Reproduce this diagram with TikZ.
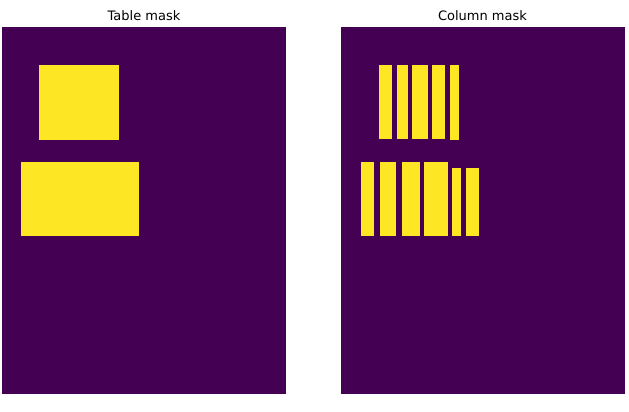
\documentclass[tikz,border=0pt]{standalone}
\usepackage{fontspec}
\setmainfont{DejaVu Sans}
\begin{document}
\begin{tikzpicture}[x=1pt, y=-1pt, line cap=round, line join=round]
  \definecolor{viridislow}{HTML}{440154}
  \definecolor{viridishigh}{HTML}{FDE725}
  \tikzset{maskbg/.style={fill=viridislow}, maskon/.style={fill=viridishigh},
    masktitle/.style={anchor=base, inner sep=0pt, font=\fontsize{13}{15}\selectfont}}
  \useasboundingbox (0,0) rectangle (629,412);
  % table mask
  \fill[maskbg] (2,26.7) rectangle (286,394);
  \fill[maskon] (39.3,64.7) rectangle (119.3,140);
  \fill[maskon] (21.3,162.3) rectangle (138.7,236);
  \node[masktitle] (ttable) at (144,20.7) {Table mask};
  % column mask
  \fill[maskbg] (341,26.7) rectangle (625,394);
  \foreach \xa/\xb/\yb in {379.3/391.7/139.3, 397.3/408/139.3, 412.3/427.7/139.3,
      431.7/445.3/139.3, 450.3/459.3/140.3}{
    \fill[maskon] (\xa,64.7) rectangle (\xb,\yb);
  }
  \foreach \xa/\xb/\ya in {361.3/373.7/162.3, 380/396.3/162.3, 401.7/419.7/162.3,
      424.3/447.7/162.3, 452.3/461.3/168, 466.3/478.7/168}{
    \fill[maskon] (\xa,\ya) rectangle (\xb,236.3);
  }
  \node[masktitle] (tcolumn) at (482.5,20.7) {Column mask};
\end{tikzpicture}
\end{document}
